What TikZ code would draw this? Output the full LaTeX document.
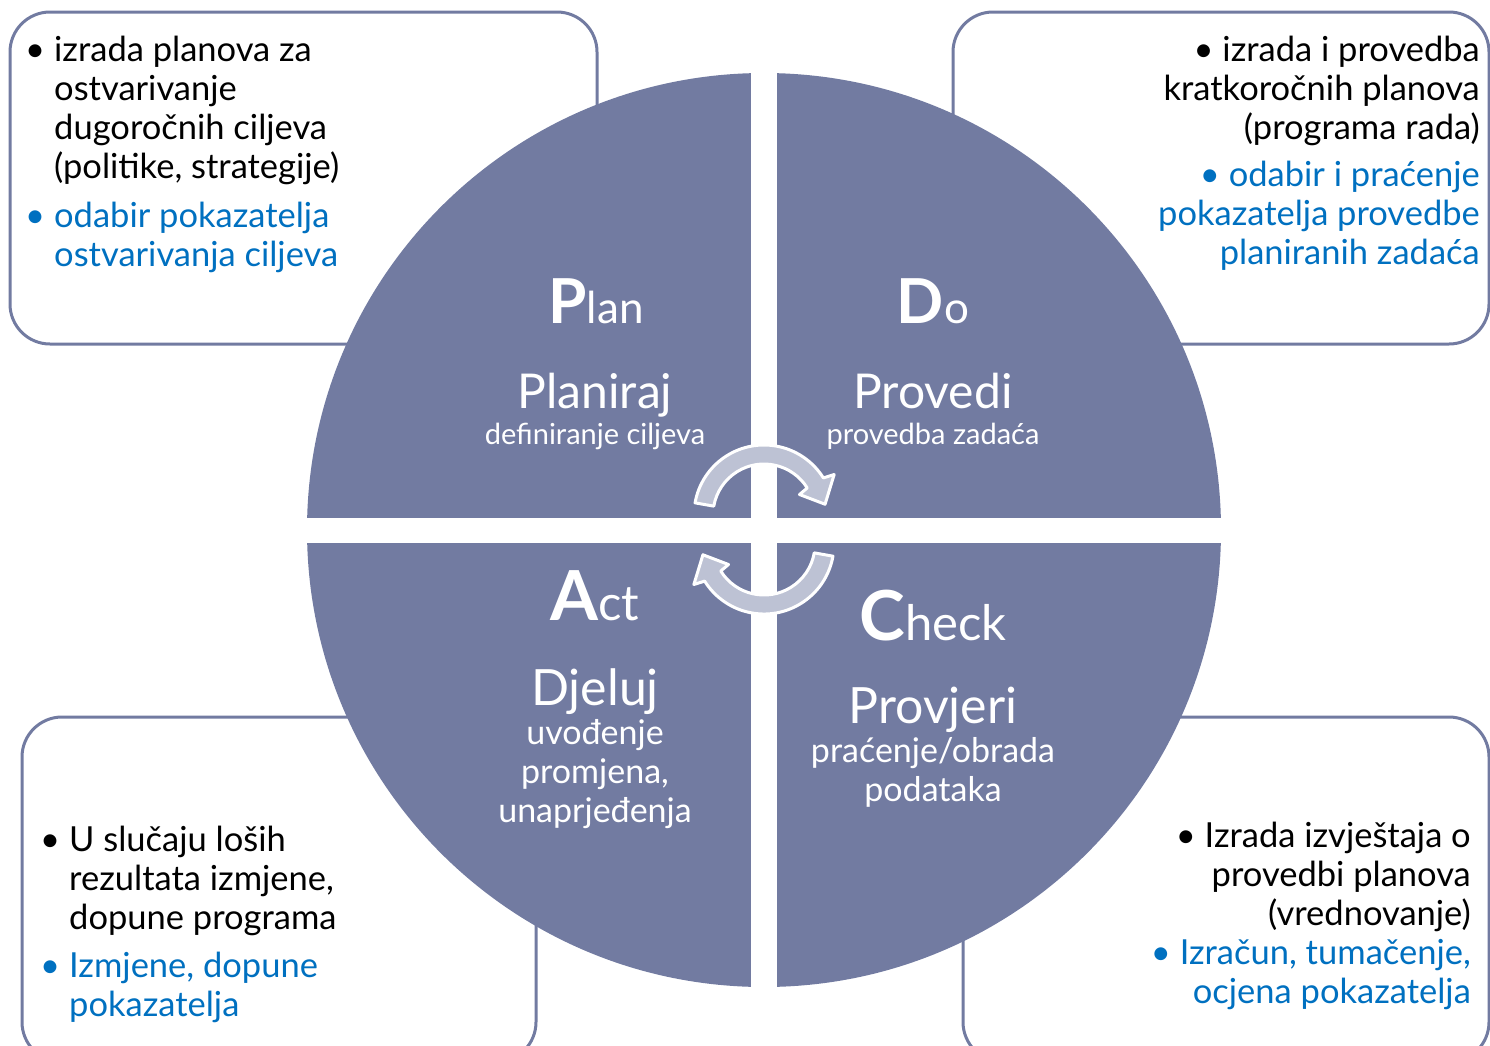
\documentclass[tikz,border=0pt]{standalone}
\usepackage{fontspec}
\setmainfont{Lato}
\usepackage{xcolor}
\usepackage{tikz}
\usetikzlibrary{positioning}

\definecolor{pdcablue}{HTML}{727BA1}
\definecolor{arrowgray}{HTML}{BDC2D4}
\definecolor{textblue}{HTML}{0070C0}

\begin{document}
\begin{tikzpicture}[x=1pt,y=-1pt]
    \tikzstyle{box_style} = [draw=pdcablue,line width=3pt,rounded corners=40pt]
    \tikzstyle{list_style} = [inner sep=0pt,font=\fontsize{34.5}{39}\selectfont]
    \tikzstyle{ind_style} = [text=textblue]
    \tikzstyle{head_style} = [text=white,inner sep=0pt,anchor=base]
    \tikzstyle{name_style} = [text=white,inner sep=0pt,anchor=base,font=\fontsize{48}{48}\selectfont]
    \tikzstyle{sub_style} = [text=white,inner sep=0pt,align=center,font=\fontsize{29}{39}\selectfont]
    \tikzstyle{cycle_style} = [fill=arrowgray,draw=white,line width=3pt,line join=round]
    \useasboundingbox (0,0) rectangle (1490,1045);
    \clip (0,0) rectangle (1490,1045);
    % corner boxes
    \draw[box_style] (10,12) rectangle (597,344);
    \draw[box_style] (953,12) rectangle (1489,344);
    \draw[box_style] (22,717) rectangle (536,1062);
    \draw[box_style] (963,717) rectangle (1489,1062);
    % circle with cross
    \fill[pdcablue] (764,530) circle[radius=457];
    \begin{scope}
        \clip (764,530) circle[radius=458];
        \fill[white] (751,60) rectangle (777,1000);
        \fill[white] (300,518) rectangle (1230,543);
    \end{scope}
    % cycle arrows
    \begin{scope}[shift={(764,515)}]
        \path[cycle_style] (190:70) arc[start angle=190,end angle=328,radius=70] -- (330:81) -- (350:62) -- (330:41) -- (328:51) arc[start angle=328,end angle=190,radius=51] -- cycle;
    \end{scope}
    \begin{scope}[shift={(764,544)},rotate=180]
        \path[cycle_style] (190:70) arc[start angle=190,end angle=328,radius=70] -- (330:81) -- (350:62) -- (330:41) -- (328:51) arc[start angle=328,end angle=190,radius=51] -- cycle;
    \end{scope}
    % quadrant texts
    \node[head_style] (plan) at (596,323) {{\fontsize{62}{62}\selectfont\bfseries P}{\fontsize{44}{44}\selectfont lan}};
    \node[name_style] (planiraj) at (595,408) {Planiraj};
    \node[sub_style,anchor=base] (plan_sub) at (595,444) {definiranje ciljeva};
    \node[head_style] (do) at (933,323) {{\fontsize{62}{62}\selectfont\bfseries D}{\fontsize{44}{44}\selectfont o}};
    \node[name_style] (provedi) at (933,408) {Provedi};
    \node[sub_style,anchor=base] (do_sub) at (933,444) {provedba zadaća};
    \node[head_style] (act) at (595,620) {{\fontsize{69}{69}\selectfont\bfseries A}{\fontsize{49}{49}\selectfont ct}};
    \node[name_style,font=\fontsize{50}{50}\selectfont] (djeluj) at (595,705) {Djeluj};
    \node[sub_style,font=\fontsize{34}{39}\selectfont,anchor=north] (act_sub) at (595,719) {uvođenje\\promjena,\\unaprjeđenja};
    \node[head_style] (check) at (933,640) {{\fontsize{69}{69}\selectfont\bfseries C}{\fontsize{49}{49}\selectfont heck}};
    \node[name_style,font=\fontsize{50}{50}\selectfont] (provjeri) at (933,723) {Provjeri};
    \node[sub_style,font=\fontsize{34}{39}\selectfont,anchor=north] (check_sub) at (933,737) {praćenje/obrada\\podataka};
    % box lists
    \node[list_style,anchor=north west,align=left] (plan_list) at (54,36) {\llap{\textbullet\hspace{9pt}}izrada planova za\\ostvarivanje\\dugoročnih ciljeva\\(politike, strategije)};
    \node[list_style,ind_style,below=17pt of plan_list.south west,anchor=north west,align=left] (plan_ind) {\llap{\textbullet\hspace{9pt}}odabir pokazatelja\\ostvarivanja ciljeva};
    \node[list_style,anchor=north east,align=right] (do_list) at (1480,36) {\textbullet\hspace{9pt}izrada i provedba\\kratkoročnih planova\\(programa rada)};
    \node[list_style,ind_style,below=15pt of do_list.south east,anchor=north east,align=right] (do_ind) {\textbullet\hspace{9pt}odabir i praćenje\\pokazatelja provedbe\\planiranih zadaća};
    \node[list_style,anchor=north west,align=left] (act_list) at (69,826) {\llap{\textbullet\hspace{9pt}}U slučaju loših\\rezultata izmjene,\\dopune programa};
    \node[list_style,ind_style,below=16pt of act_list.south west,anchor=north west,align=left] (act_ind) {\llap{\textbullet\hspace{9pt}}Izmjene, dopune\\pokazatelja};
    \node[list_style,anchor=north east,align=right] (check_list) at (1471,822) {\textbullet\hspace{9pt}Izrada izvještaja o\\provedbi planova\\(vrednovanje)};
    \node[list_style,ind_style,below=7pt of check_list.south east,anchor=north east,align=right] (check_ind) {\textbullet\hspace{9pt}Izračun, tumačenje,\\ocjena pokazatelja};
\end{tikzpicture}
\end{document}
